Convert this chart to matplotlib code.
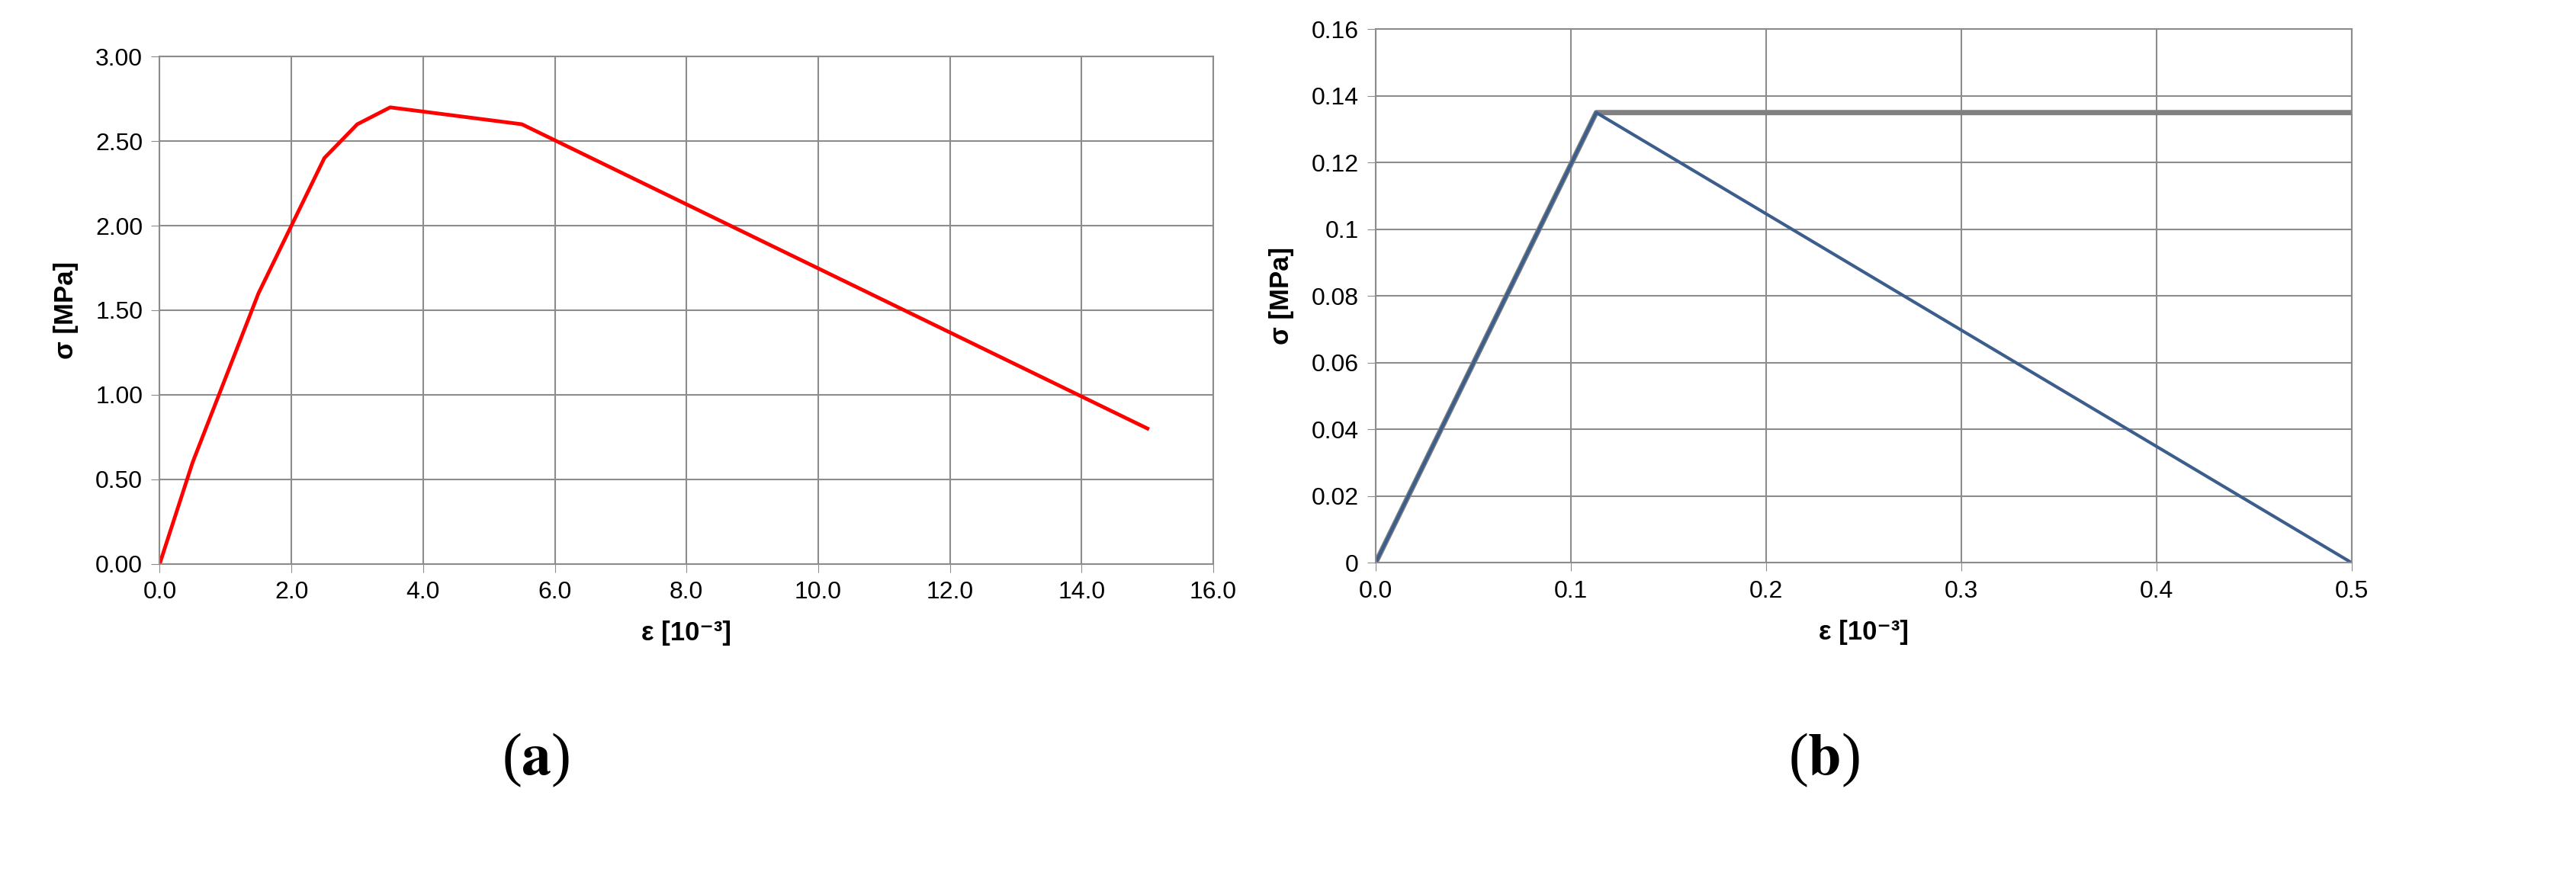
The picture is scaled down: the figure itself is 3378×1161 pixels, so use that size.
import matplotlib
matplotlib.use("Agg")
import matplotlib.pyplot as plt

plt.rcParams["font.family"] = ["Liberation Sans", "DejaVu Sans"]

# (a) concrete compression curve
eps_a = [0.0, 0.5, 1.5, 2.5, 3.0, 3.5, 5.5, 15.0]
sig_a = [0.0, 0.6, 1.6, 2.4, 2.6, 2.7, 2.6, 0.8]

# (b) tension: grey plateau and blue softening
eps_b_grey = [0.0, 0.113, 0.5]
sig_b_grey = [0.0, 0.135, 0.135]
eps_b_blue = [0.0, 0.113, 0.5]
sig_b_blue = [0.0, 0.135, 0.0]

fig = plt.figure(figsize=(33.78, 11.61), dpi=100)
fig.patch.set_facecolor("white")

def style(ax):
    ax.grid(True, color="#8c8c8c", linewidth=1.5)
    ax.set_axisbelow(True)
    for s in ax.spines.values():
        s.set_color("#8c8c8c")
        s.set_linewidth(1.5)
    ax.tick_params(labelsize=23, length=8, color="#8c8c8c", pad=8)
    ax.set_xlabel("ε [10⁻³]", fontsize=25, fontweight="bold", labelpad=16)
    ax.set_ylabel("σ [MPa]", fontsize=25, fontweight="bold", labelpad=16)

ax1 = fig.add_axes([0.062, 0.363, 0.409, 0.573])
ax1.plot(eps_a, sig_a, color="#ff0000", linewidth=3.5)
ax1.set_xlim(0, 16)
ax1.set_ylim(0, 3)
ax1.set_xticks([i * 2.0 for i in range(9)])
ax1.set_xticklabels([f"{i * 2.0:.1f}" for i in range(9)])
ax1.set_yticks([i * 0.5 for i in range(7)])
ax1.set_yticklabels([f"{i * 0.5:.2f}" for i in range(7)])
style(ax1)

ax2 = fig.add_axes([0.534, 0.364, 0.379, 0.603])
ax2.plot(eps_b_grey, sig_b_grey, color="#808080", linewidth=5)
ax2.plot(eps_b_blue, sig_b_blue, color="#3b5e8c", linewidth=3)
ax2.set_xlim(0, 0.5)
ax2.set_ylim(0, 0.16)
ax2.set_xticks([0, 0.1, 0.2, 0.3, 0.4, 0.5])
ax2.set_xticklabels(["0.0", "0.1", "0.2", "0.3", "0.4", "0.5"])
ax2.set_yticks([i * 0.02 for i in range(9)])
ax2.set_yticklabels(["0", "0.02", "0.04", "0.06", "0.08", "0.1", "0.12", "0.14", "0.16"])
style(ax2)

# panel labels
for lab, x in (("a", 0.208), ("b", 0.708)):
    fig.text(x, 0.125, f"(${{\\bf {lab}}}$)", fontsize=56, family="Liberation Serif",
             ha="center", math_fontfamily="stix")

fig.savefig("out.png", dpi=100)
